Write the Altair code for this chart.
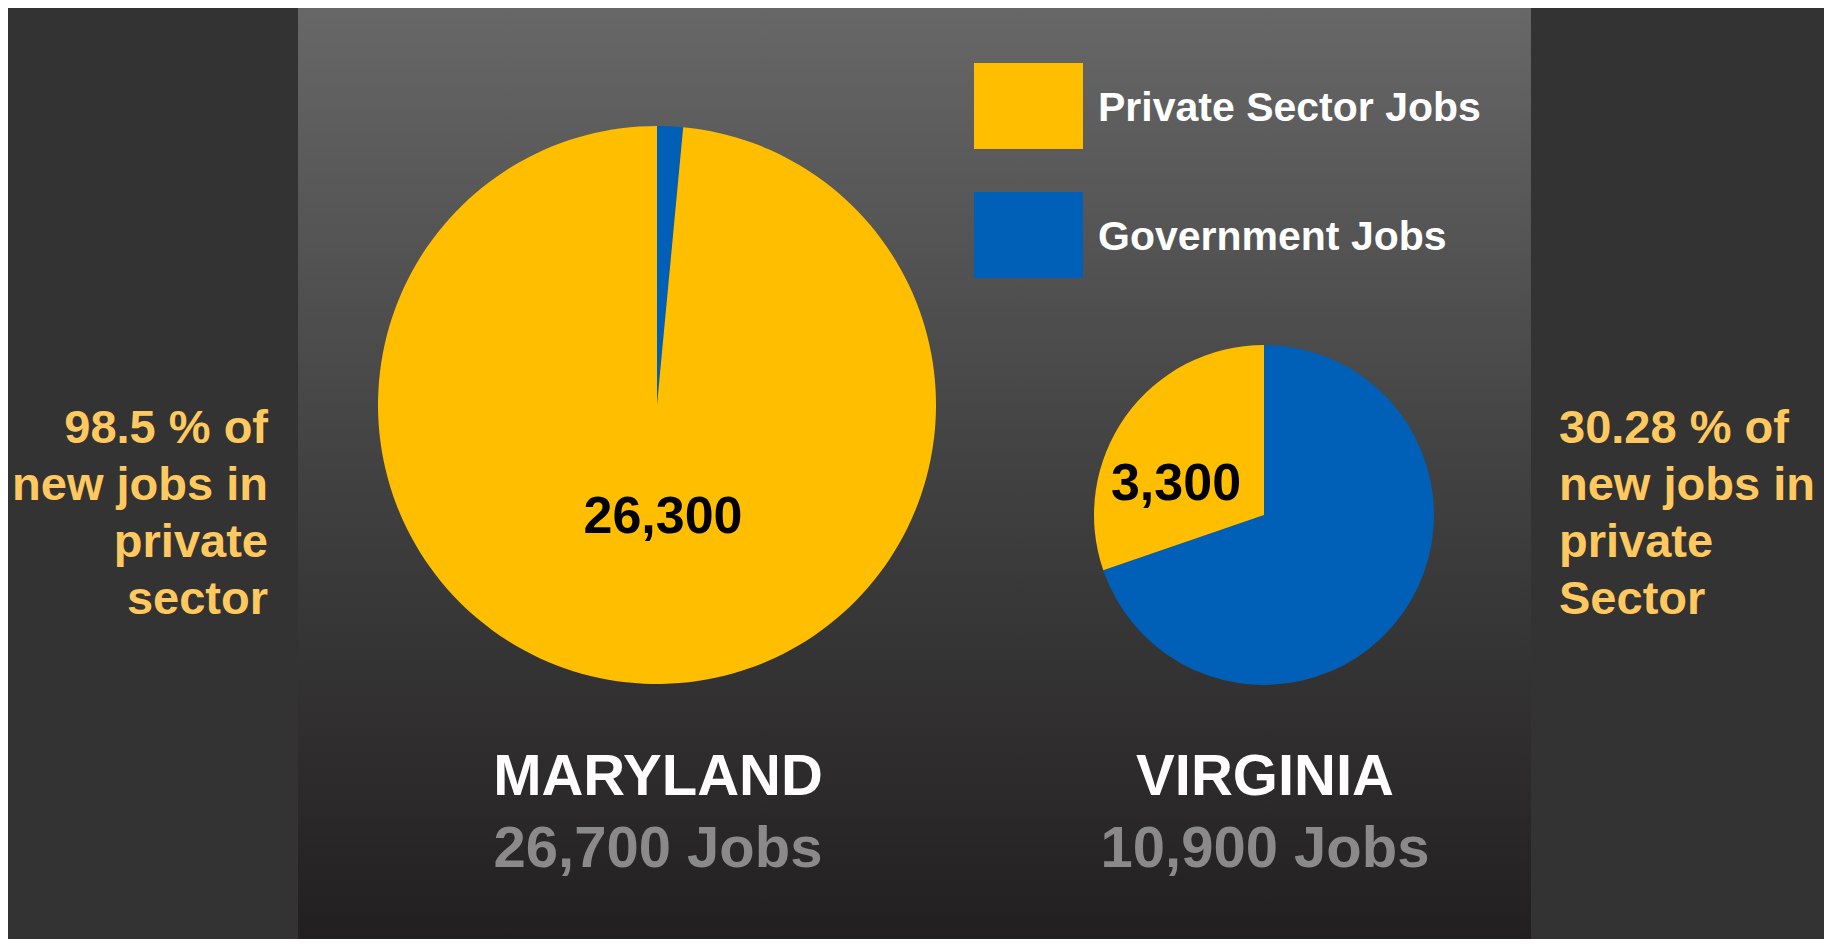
import altair as alt
import pandas as pd

# ---- data ----
states = ["MARYLAND", "VIRGINIA"]
total_jobs = [26700, 10900]
private_jobs = [26300, 3300]
categories = ["Government Jobs", "Private Sector Jobs"]
cat_colors = ["#005FB6", "#FFBE00"]
legend_labels = ["Private Sector Jobs", "Government Jobs"]
left_note = ["98.5 % of", "new jobs in", "private", "sector"]
right_note = ["30.28 % of", "new jobs in", "private", "Sector"]

# ---- layout (page pixels) ----
W, H = 1816, 931
OFF = 8


def p(v):
    return v - OFF


rows = []
for s, t, pr in zip(states, total_jobs, private_jobs):
    rows.append({"state": s, "category": "Government Jobs", "jobs": t - pr})
    rows.append({"state": s, "category": "Private Sector Jobs", "jobs": pr})
df = pd.DataFrame(rows)
one = pd.DataFrame({"k": [0]})

FONT = "Liberation Sans"
color_scale = alt.Scale(domain=categories, range=cat_colors)

panel = alt.Chart(one).mark_rect(
    color=alt.Gradient(
        gradient="linear",
        stops=[
            alt.GradientStop(offset=0, color="#676767"),
            alt.GradientStop(offset=0.5, color="#414141"),
            alt.GradientStop(offset=1, color="#221f20"),
        ],
        x1=0, x2=0, y1=0, y2=1,
    )
).encode(x=alt.value(p(298)), x2=alt.value(p(1531)), y=alt.value(0), y2=alt.value(H))


def pie(state, cx, cy, r):
    return alt.Chart(df).transform_filter(alt.datum.state == state).mark_arc(
        radius=r
    ).encode(
        theta=alt.Theta("jobs:Q", stack="normalize"),
        color=alt.Color("category:N", scale=color_scale, legend=None),
        order=alt.Order("category:N", sort="ascending"),
        x=alt.value(p(cx)),
        y=alt.value(p(cy)),
    )


def txt(text, X, Yb, size, color, align="center", lh=57):
    return alt.Chart(one).mark_text(
        text=text, font=FONT, fontWeight="bold", fontSize=size, color=color,
        align=align, baseline="alphabetic", lineHeight=lh,
    ).encode(x=alt.value(p(X)), y=alt.value(p(Yb)))


def swatch(color, x1, x2, y1, y2):
    return alt.Chart(one).mark_rect(color=color).encode(
        x=alt.value(p(x1)), x2=alt.value(p(x2)), y=alt.value(p(y1)), y2=alt.value(p(y2))
    )


layers = [panel]
pie_geom = [(657, 405, 279), (1264, 515, 170)]
for s, (cx, cy, r) in zip(states, pie_geom):
    layers.append(pie(s, cx, cy, r))

# labels inside pies
label_pos = [(663, 533), (1176, 500)]
for pr, (lx, ly) in zip(private_jobs, label_pos):
    layers.append(txt(f"{pr:,}", lx, ly, 52, "#000000"))

# state names and totals
name_x = [658, 1265]
for s, t, nx in zip(states, total_jobs, name_x):
    layers.append(txt(s, nx, 795, 58, "#ffffff"))
    layers.append(txt(f"{t:,} Jobs", nx, 867, 58, "#8a8a8a"))

# legend
legend_colors = [cat_colors[1], cat_colors[0]]
legend_y = [(63, 149, 121), (192, 278, 250)]
for lab, col, (y1, y2, yb) in zip(legend_labels, legend_colors, legend_y):
    layers.append(swatch(col, 974, 1083, y1, y2))
    layers.append(txt(lab, 1098, yb, 41, "#ffffff", align="left"))

# side notes
layers.append(txt(left_note, 268, 443, 47, "#ffc95f", align="right"))
layers.append(txt(right_note, 1559, 443, 47, "#ffc95f", align="left"))

chart = alt.layer(*layers).properties(
    width=W, height=H, background="#333333", padding=0,
    autosize=alt.AutoSizeParams(type="none"),
).configure_view(stroke=None)

chart.save("out.html", embed_options={"renderer": "svg", "actions": False})
